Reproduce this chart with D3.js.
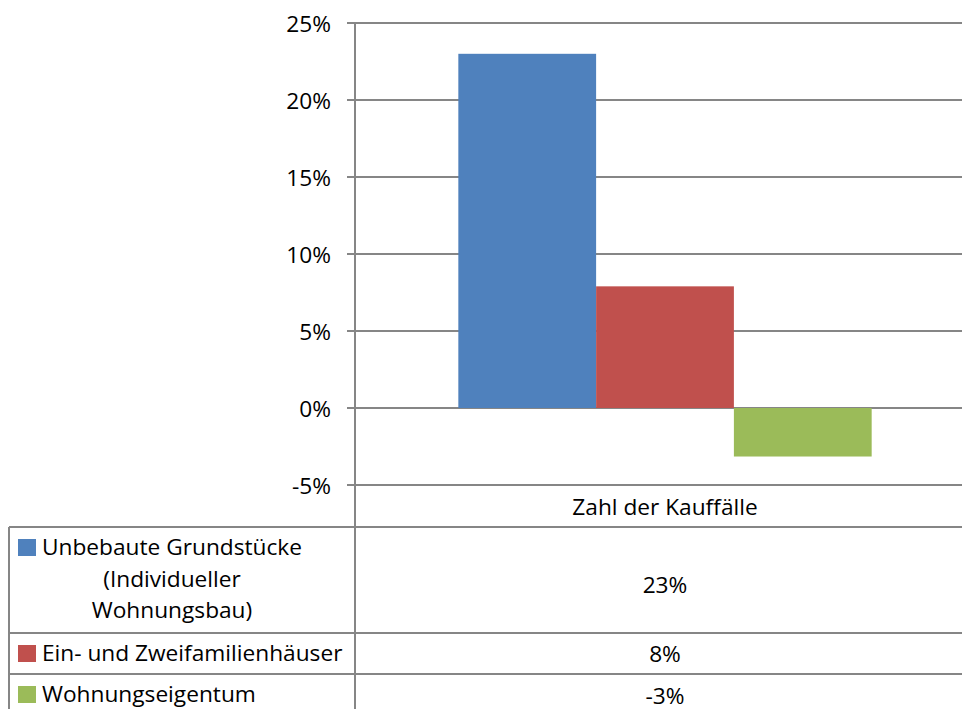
<!DOCTYPE html>
<html>
<head>
<meta charset="utf-8">
<script src="https://cdn.jsdelivr.net/npm/d3@7"></script>
<style>
  body { margin: 0; background: #fff; }
  text { font-family: "Open Sans", "Liberation Sans", Arial, sans-serif; fill: #000; }
</style>
</head>
<body>
<svg id="chart" width="962" height="709"></svg>
<script>
// data
var category = "Zahl der Kauffälle";
var seriesNames = ["Unbebaute Grundstücke (Individueller Wohnungsbau)", "Ein- und Zweifamilienhäuser", "Wohnungseigentum"];
var seriesLines = [["Unbebaute Grundstücke", "(Individueller", "Wohnungsbau)"], ["Ein- und Zweifamilienhäuser"], ["Wohnungseigentum"]];
var seriesValues = [23.0, 7.9, -3.15];
var tableLabels = ["23%", "8%", "-3%"];
var yTicks = [-5, 0, 5, 10, 15, 20, 25];
var colors = ["#4f81bd", "#c0504d", "#9bbb59"];

var svg = d3.select("#chart");
var gridColor = "#868686";
var fontSize = "22.7px";
var plotLeft = 355, plotRight = 975, plotTop = 23, plotBottom = 485;

// Y scale
var y = d3.scaleLinear()
    .domain([-5, 25])
    .range([plotBottom, plotTop]);

// X scales
var x0 = d3.scaleBand()
    .domain([category])
    .range([plotLeft, plotRight])
    .paddingInner(0)
    .paddingOuter(0.25);

var x1 = d3.scaleBand()
    .domain(seriesNames)
    .range([0, x0.bandwidth()]);

var catCenter = x0(category) + x0.bandwidth() / 2;

// gridlines
svg.append("g")
    .selectAll("line")
    .data(yTicks)
    .enter().append("line")
    .attr("x1", plotLeft - 8)
    .attr("x2", 962)
    .attr("y1", function (d) { return y(d); })
    .attr("y2", function (d) { return y(d); })
    .style("stroke", gridColor)
    .style("stroke-width", 2);

// y tick labels
svg.append("g")
    .selectAll("text")
    .data(yTicks)
    .enter().append("text")
    .attr("x", 331)
    .attr("y", function (d) { return y(d) + 9; })
    .attr("text-anchor", "end")
    .style("font-size", fontSize)
    .text(function (d) { return d + "%"; });

// bars
svg.append("g")
    .selectAll("rect")
    .data(seriesValues)
    .enter().append("rect")
    .attr("x", function (d, i) { return x0(category) + x1(seriesNames[i]); })
    .attr("y", function (d) { return y(Math.max(0, d)); })
    .attr("width", x1.bandwidth())
    .attr("height", function (d) { return Math.abs(y(d) - y(0)); })
    .style("fill", function (d, i) { return colors[i]; });

// category label
svg.append("text")
    .attr("x", catCenter)
    .attr("y", 515)
    .attr("text-anchor", "middle")
    .style("font-size", fontSize)
    .text(category);

// data table
var tableLeft = 9;
var rowTops = [527, 633, 674, 715];

var tg = svg.append("g");
tg.selectAll("line.h")
    .data(rowTops)
    .enter().append("line")
    .attr("class", "h")
    .attr("x1", tableLeft)
    .attr("x2", 962)
    .attr("y1", function (d) { return d; })
    .attr("y2", function (d) { return d; })
    .style("stroke", gridColor)
    .style("stroke-width", 2);

tg.append("line")
    .attr("x1", tableLeft).attr("x2", tableLeft)
    .attr("y1", rowTops[0]).attr("y2", 709)
    .style("stroke", gridColor).style("stroke-width", 2);

// y axis line, down through the table
svg.append("line")
    .attr("x1", plotLeft).attr("x2", plotLeft)
    .attr("y1", plotTop).attr("y2", 709)
    .style("stroke", gridColor).style("stroke-width", 2);

// legend keys + row labels
var valueBaselines = [593, 662, 704];
seriesLines.forEach(function (lines, i) {
    var rt = rowTops[i];
    tg.append("rect")
        .attr("x", 18)
        .attr("y", rt + 12)
        .attr("width", 18)
        .attr("height", 17)
        .style("fill", colors[i]);
    lines.forEach(function (ln, j) {
        tg.append("text")
            .attr("x", j === 0 ? 42 : 172)
            .attr("y", rt + 28 + j * 31.5)
            .attr("text-anchor", j === 0 ? "start" : "middle")
            .style("font-size", fontSize)
            .text(ln);
    });
    tg.append("text")
        .attr("x", catCenter)
        .attr("y", valueBaselines[i])
        .attr("text-anchor", "middle")
        .style("font-size", fontSize)
        .text(tableLabels[i]);
});
</script>
</body>
</html>
